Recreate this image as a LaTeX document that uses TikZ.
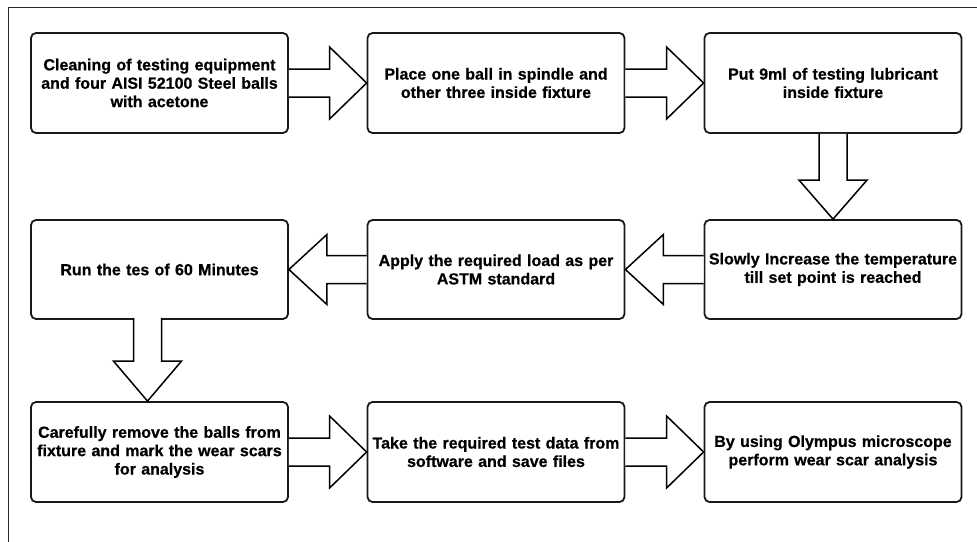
\documentclass[tikz,border=0pt]{standalone}
\usepackage{fontspec}
\setmainfont{Liberation Sans}[BoldFeatures={FakeBold=0.6}]
\usetikzlibrary{calc}
\tikzset{
  stepbox/.style={draw=black!90, line width=1.8pt, rounded corners=5pt, minimum width=255pt, minimum height=100pt, inner sep=1pt, text width=255pt, align=center, font=\fontsize{16}{18.4}\selectfont\bfseries},
  bigarrow/.style={draw=black, line width=1.5pt, fill=white, line join=miter},
  frameline/.style={draw=black!85, line width=1pt}
}
\begin{document}
\begin{tikzpicture}[x=1pt,y=-1pt]
\useasboundingbox (0,0) rectangle (977,541);
\draw[frameline] (8,545) -- (8,7) -- (980,7);
% row 1
\node[stepbox] (b1) at (159.5,83) {Cleaning of testing equipment\\and four AISI 52100 Steel balls\\with acetone};
\node[stepbox] (b2) at (496,83) {Place one ball in spindle and\\other three inside fixture};
\node[stepbox] (b3) at (833,83) {Put 9ml of testing lubricant\\inside fixture};
% row 2
\node[stepbox, minimum height=99pt] (b4) at (159.5,269.5) {Run the tes of 60 Minutes};
\node[stepbox, minimum height=99pt] (b5) at (496,269.5) {Apply the required load as per\\ASTM standard};
\node[stepbox, minimum height=99pt] (b6) at (833,269.5) {Slowly Increase the temperature\\till set point is reached};
% row 3
\node[stepbox] (b7) at (159.5,452) {Carefully remove the balls from\\fixture and mark the wear scars\\for analysis};
\node[stepbox] (b8) at (496,452) {Take the required test data from\\software and save files};
\node[stepbox] (b9) at (833,452) {By using Olympus microscope\\perform wear scar analysis};
% right arrows
\foreach \a/\b in {b1/b2, b2/b3, b7/b8, b8/b9}{
  \draw[bigarrow] ($(\a.east)+(0,-14)$) -- ($(\b.west)+(-37,-14)$) -- ($(\b.west)+(-37,-36)$) -- (\b.west) -- ($(\b.west)+(-37,36)$) -- ($(\b.west)+(-37,14)$) -- ($(\a.east)+(0,14)$);
}
% left arrows
\foreach \a/\b in {b6/b5, b5/b4}{
  \draw[bigarrow] ($(\a.west)+(0,-14)$) -- ($(\b.east)+(38,-14)$) -- ($(\b.east)+(38,-35)$) -- (\b.east) -- ($(\b.east)+(38,35)$) -- ($(\b.east)+(38,14)$) -- ($(\a.west)+(0,14)$);
}
% down arrows
\draw[bigarrow] ($(b3.south)+(-14,0)$) -- ($(b6.north)+(-14,-39)$) -- ($(b6.north)+(-34,-39)$) -- (b6.north) -- ($(b6.north)+(34,-39)$) -- ($(b6.north)+(14,-39)$) -- ($(b3.south)+(14,0)$);
\draw[bigarrow] ($(b4.south)+(-26,-2)$) -- ($(b7.north)+(-26,-40)$) -- ($(b7.north)+(-46,-40)$) -- ($(b7.north)+(-12,0)$) -- ($(b7.north)+(22,-40)$) -- ($(b7.north)+(2,-40)$) -- ($(b4.south)+(2,-2)$);
\end{tikzpicture}
\end{document}
